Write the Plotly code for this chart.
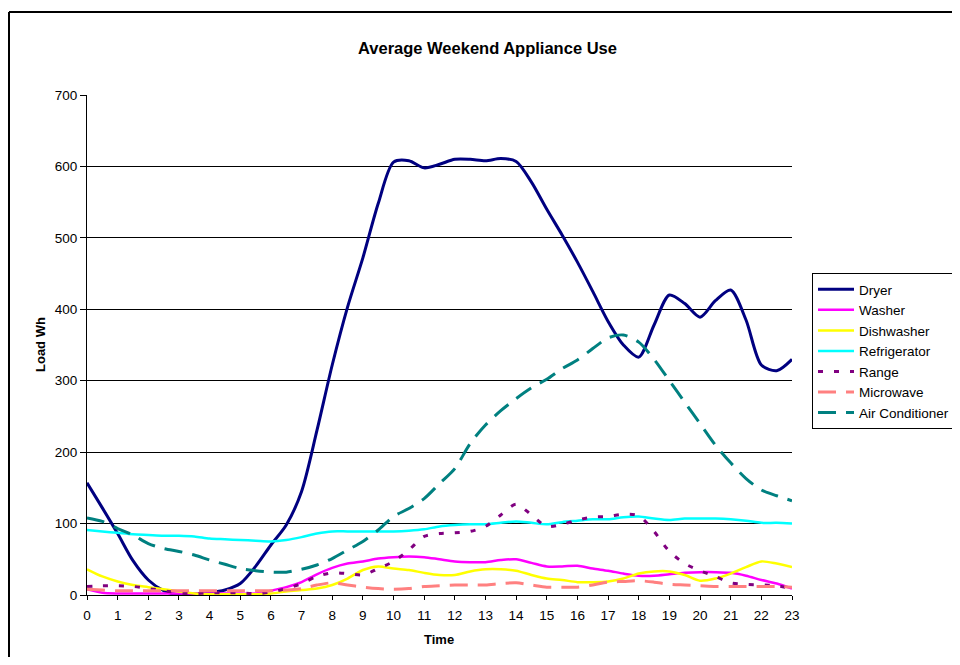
import plotly.graph_objects as go

hours = [0, 0.5, 1, 1.5, 2, 2.5, 3, 3.5, 4, 4.5, 5, 5.5, 6, 6.5, 7, 7.5, 8, 8.5, 9, 9.5,
         10, 10.5, 11, 11.5, 12, 12.5, 13, 13.5, 14, 14.5, 15, 15.5, 16, 16.5, 17, 17.5,
         18, 18.5, 19, 19.5, 20, 20.5, 21, 21.5, 22, 22.5, 23]

dryer = [157, 122, 86, 48, 21, 6, 0, 1, 3, 7, 16, 40, 70, 98, 145, 230, 322, 403, 472, 548,
         606, 608, 598, 603, 610, 610, 608, 611, 607, 578, 540, 504, 466, 425, 383, 350,
         333, 378, 420, 408, 389, 412, 427, 385, 322, 314, 330]
washer = [8, 3, 2, 2, 2, 2, 2, 2, 2, 2, 2, 2, 6, 11, 18, 29, 38, 44, 47, 51,
          53, 54, 53, 50, 47, 46, 46, 49, 50, 45, 40, 40, 41, 37, 34, 30,
          27, 27, 29, 31, 32, 32, 31, 27, 21, 16, 9]
dishwasher = [36, 26, 19, 14, 11, 8, 5, 2, 1, 1, 1, 1, 2, 5, 7, 9, 14, 23, 35, 40,
              37, 35, 31, 28, 28, 33, 36, 36, 34, 28, 23, 21, 18, 18, 19, 23,
              30, 33, 33, 28, 20, 23, 30, 39, 47, 44, 39]
refrigerator = [91, 89, 87, 85, 84, 83, 83, 82, 79, 78, 77, 76, 75, 77, 81, 86, 89, 89, 89, 89,
                89, 90, 92, 96, 98, 99, 99, 101, 103, 101, 99, 102, 104, 106, 106, 109,
                110, 107, 105, 107, 107, 107, 106, 104, 101, 101, 100]
range_ = [12, 13, 13, 12, 9, 6, 3, 2, 3, 3, 3, 2, 4, 9, 16, 26, 31, 30, 28, 37,
          47, 63, 82, 86, 87, 89, 96, 112, 127, 112, 96, 99, 105, 109, 110, 113,
          111, 89, 61, 44, 34, 26, 17, 15, 14, 13, 9]
microwave = [8, 7, 6, 6, 6, 6, 6, 6, 6, 6, 6, 6, 6, 7, 9, 14, 17, 14, 11, 9,
             8, 9, 12, 13, 14, 14, 14, 16, 17, 14, 11, 11, 11, 14, 18, 19,
             20, 18, 15, 14, 13, 12, 12, 12, 12, 12, 11]
air_conditioner = [108, 103, 93, 84, 72, 65, 61, 56, 49, 43, 37, 34, 32, 32, 36, 42, 51, 63, 75, 91,
                   110, 121, 135, 156, 177, 212, 238, 258, 275, 290, 302, 317, 329, 345, 360, 364,
                   354, 330, 300, 270, 240, 210, 185, 163, 147, 139, 132]

tick_vals = list(range(0, 24))
y_ticks = [0, 100, 200, 300, 400, 500, 600, 700]

series = [
    ("Dryer", dryer, "#000080", 3, "solid"),
    ("Washer", washer, "#FF00FF", 2.5, "solid"),
    ("Dishwasher", dishwasher, "#FFFF00", 2.5, "solid"),
    ("Refrigerator", refrigerator, "#00FFFF", 2.5, "solid"),
    ("Range", range_, "#800080", 3, "5px,11px"),
    ("Microwave", microwave, "#FF8080", 3, "18px,10px"),
    ("Air Conditioner", air_conditioner, "#008080", 3, "18px,10px"),
]

FONT = "Liberation Sans, Arial, sans-serif"
OFF = 8  # default body margin of the page
W, H = 960 - OFF, 665 - 2 * OFF  # keep the page free of scrollbars
# plot area in page pixels
PL, PR, PT, PB = 87, 792, 95, 595
ML = PL - OFF
MT = PT - OFF
MR = W - (PR - OFF)
MB = H - (PB - OFF)
PW, PH = PR - PL, PB - PT


def px_x(px):
    return (px - PL) / PW


def px_y(py):
    return (PB - py) / PH


fig = go.Figure()
for name, vals, color, width, dash in series:
    fig.add_trace(go.Scatter(
        x=hours, y=vals, name=name, mode="lines",
        line=dict(color=color, width=width, dash=dash, shape="spline", smoothing=0.8),
    ))

frame_line = dict(color="black", width=2)
fig.update_layout(
    width=W, height=H,
    margin=dict(l=ML, r=MR, t=MT, b=MB, autoexpand=False),
    paper_bgcolor="white", plot_bgcolor="white",
    font=dict(family=FONT, size=13, color="black"),
    showlegend=True,
    legend=dict(
        x=px_x(812), y=px_y(273), xanchor="left", yanchor="top",
        bgcolor="white", bordercolor="black", borderwidth=1,
        font=dict(family=FONT, size=13.5, color="black"),
        tracegroupgap=0, itemwidth=36,
    ),
    xaxis=dict(
        range=[0, 23], tickmode="array", tickvals=tick_vals,
        ticktext=[str(v) for v in tick_vals],
        showgrid=False, zeroline=False, showline=True, linecolor="black", linewidth=1,
        ticks="outside", ticklen=4, tickcolor="black", ticklabelstandoff=4,
        tickfont=dict(family=FONT, size=13.5, color="black"),
    ),
    yaxis=dict(
        range=[0, 700], tickmode="array", tickvals=y_ticks,
        showgrid=True, gridcolor="black", gridwidth=1, zeroline=False,
        showline=True, linecolor="black", linewidth=1,
        ticks="outside", ticklen=6, tickcolor="black",
        tickfont=dict(family=FONT, size=13.5, color="black"),
    ),
    shapes=[
        dict(type="line", xref="paper", yref="paper",
             x0=px_x(9), x1=px_x(9), y0=px_y(12), y1=px_y(700),
             line=frame_line, layer="above"),
        dict(type="line", xref="paper", yref="paper",
             x0=px_x(9), x1=px_x(1000), y0=px_y(12), y1=px_y(12),
             line=frame_line, layer="above"),
    ],
    annotations=[
        dict(text="<b>Average Weekend Appliance Use</b>", xref="paper", yref="paper",
             x=px_x(487.5), y=px_y(48), xanchor="center", yanchor="middle",
             showarrow=False, font=dict(family=FONT, size=16.5, color="black")),
        dict(text="<b>Load Wh</b>", xref="paper", yref="paper",
             x=px_x(40), y=0.5, xanchor="center", yanchor="middle", textangle=-90,
             showarrow=False, font=dict(family=FONT, size=13, color="black")),
        dict(text="<b>Time</b>", xref="paper", yref="paper",
             x=px_x(438.5), y=px_y(639), xanchor="center", yanchor="middle",
             showarrow=False, font=dict(family=FONT, size=13, color="black")),
    ],
)

fig.write_html("out.html")
